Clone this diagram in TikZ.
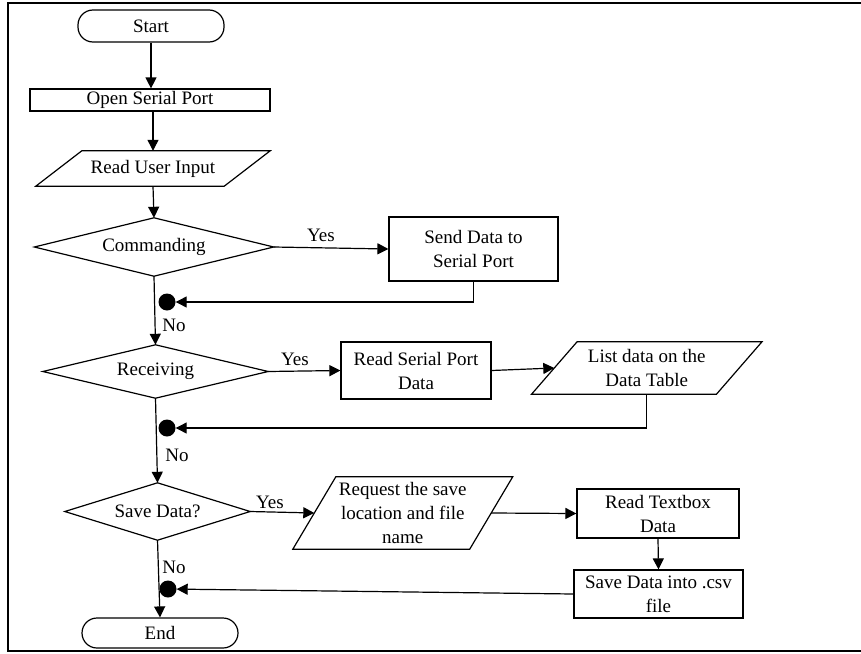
\documentclass[tikz,border=0pt]{standalone}
\usepackage{fontspec}
\setmainfont{Liberation Serif}
\usetikzlibrary{arrows.meta}
\newcommand{\drawpgram}[2]{\draw[ln] ([xshift=#2]#1.north west) -- ([xshift=#2]#1.north east) -- ([xshift=-#2]#1.south east) -- ([xshift=-#2]#1.south west) -- cycle;}
\newcommand{\drawdiam}[1]{\draw[ln] (#1.north) -- (#1.east) -- (#1.south) -- (#1.west) -- cycle;}
\begin{document}
\begin{tikzpicture}[x=1pt,y=-1pt,
  every node/.style={font=\fontsize{19}{24}\selectfont, align=center, inner sep=0pt},
  ln/.style={line width=1.2pt},
  arr/.style={ln,-{Triangle[length=11pt,width=11pt]}},
  termbox/.style={draw, ln, rectangle, rounded corners=15pt},
  procbox/.style={draw, ln, rectangle},
  decis/.style={rectangle},
  iobox/.style={rectangle},
  dotn/.style={circle, fill=black, minimum size=17pt},
  lbl/.style={}
]
\useasboundingbox (0,0) rectangle (861,653);
\draw[line width=1.6pt] (861,3) -- (8,3) -- (8,651) -- (861,651);

% main column
\node[termbox, minimum width=146pt, minimum height=32pt] (start) at (151,26) {Start};
\node[procbox, minimum width=240pt, minimum height=22pt] (open) at (150,100) {Open Serial Port};
\node[iobox, minimum width=188pt, minimum height=35pt] (input) at (153,168.5) {Read User Input};
\drawpgram{input}{23pt}
\node[decis, minimum width=239pt, minimum height=58pt] (cmd) at (154,247) {Commanding};
\drawdiam{cmd}
\node[decis, minimum width=225pt, minimum height=53pt] (recv) at (155.5,371.5) {Receiving};
\drawdiam{recv}
\node[decis, minimum width=185pt, minimum height=57pt] (save) at (157.5,511.5) {Save Data?};
\drawdiam{save}
\node[termbox, minimum width=156pt, minimum height=30pt] (end) at (160,633) {End};

% right side
\node[procbox, minimum width=169pt, minimum height=64pt] (send) at (473.5,249) {Send Data to\\Serial Port};
\node[procbox, minimum width=150pt, minimum height=57pt] (readser) at (416,370.5) {Read Serial Port\\Data};
\node[iobox, minimum width=184.5pt, minimum height=52pt] (listd) at (646.75,368) {List data on the\\Data Table};
\drawpgram{listd}{22.75pt}
\node[iobox, minimum width=176.5pt, minimum height=72pt] (req) at (402.75,513) {Request the save\\location and file\\name};
\drawpgram{req}{21.5pt}
\node[procbox, minimum width=162pt, minimum height=49pt] (readtb) at (658,513.5) {Read Textbox\\Data};
\node[procbox, minimum width=169pt, minimum height=48pt] (savecsv) at (658.5,594) {Save Data into .csv\\file};

% junction dots
\node[dotn] (d1) at (167,302) {};
\node[dotn] (d2) at (167,428) {};
\node[dotn] (d3) at (168,589) {};

% labels
\node[lbl] (y1) at (321,235) {Yes};
\node[lbl] (n1) at (174,325) {No};
\node[lbl] (y2) at (295,359) {Yes};
\node[lbl] (n2) at (177,455) {No};
\node[lbl] (y3) at (270,502) {Yes};
\node[lbl] (n3) at (174,567) {No};

% connectors
\draw[arr] (start) -- (start.south |- open.north);
\draw[arr] (open.south -| input.north) -- (input.north);
\draw[arr] (input.south) -- (cmd.north);
\draw[arr] (cmd.south) -- (recv.north);
\draw[arr] (recv.south) -- (save.north);
\draw[arr] (save.south) -- (end.north);

\draw[arr] (cmd.east) -- (send.west);
\draw[arr] (send.south) |- (d1);
\draw[arr] (recv.east) -- (readser.west);
\draw[arr] (readser.east) -- (listd.west);
\draw[arr] (listd.south) |- (d2);
\draw[arr] (save.east) -- (req.west);
\draw[arr] (req.east) -- (readtb.west);
\draw[arr] (readtb.south) -- (savecsv.north);
\draw[arr] (savecsv.west) -- (d3);
\end{tikzpicture}
\end{document}
